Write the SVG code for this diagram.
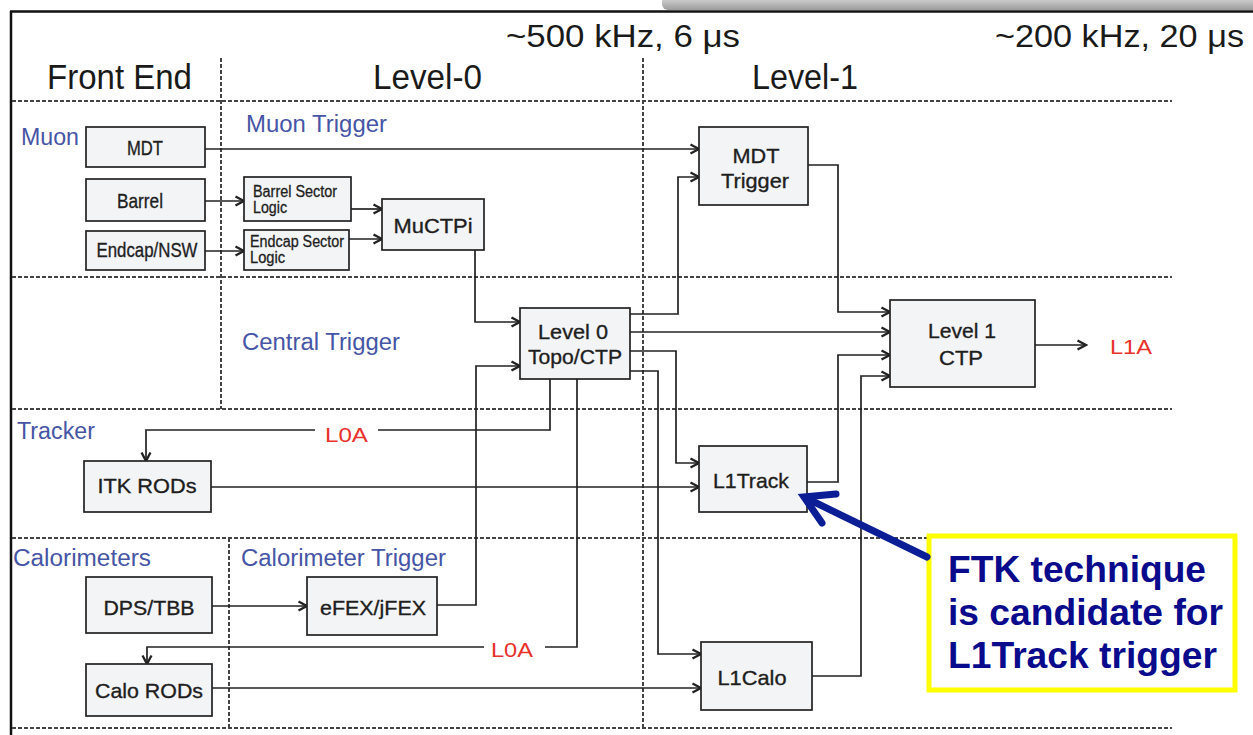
<svg xmlns="http://www.w3.org/2000/svg" width="1253" height="735" viewBox="0 0 1253 735">
<style>
text{font-family:"Liberation Sans",Arial,sans-serif;}
.hdr{font-size:35px;fill:#1a1a1a;}
.rate{font-size:32px;fill:#1a1a1a;}
.sec{font-size:23px;fill:#4655a5;}
.box{fill:#f3f4f6;stroke:#222;stroke-width:1.7;}
.bt{font-size:21px;fill:#1e1e1e;text-anchor:middle;stroke:#1e1e1e;stroke-width:0.35;}
.st{font-size:16px;fill:#1e1e1e;stroke:#1e1e1e;stroke-width:0.3;}
.dash{stroke:#444;stroke-width:2;stroke-dasharray:4 2;fill:none;}
.c{fill:none;stroke:#222;stroke-width:1.7;}
.red{font-size:21px;fill:#e8322b;}
.ftk{font-size:36.5px;font-weight:bold;fill:#0a0a8c;}
</style>
<defs>
<marker id="ah" viewBox="0 0 12 12" refX="10.5" refY="6" markerWidth="12" markerHeight="12" markerUnits="userSpaceOnUse" orient="auto">
<path d="M2,1.5 L10.5,6 L2,10.5" fill="none" stroke="#222" stroke-width="2.3"/>
</marker>
<linearGradient id="sh" x1="0" y1="0" x2="0" y2="1">
<stop offset="0" stop-color="#e6e6e6"/>
<stop offset="1" stop-color="#9c9c9c"/>
</linearGradient>
</defs>
<rect width="1253" height="735" fill="#fff"/>
<rect x="662" y="-6" width="600" height="16" rx="6" fill="url(#sh)"/>
<g id="frame">
<line x1="10" y1="11.5" x2="1253" y2="11.5" stroke="#111" stroke-width="2.5"/>
<line x1="11" y1="11" x2="11" y2="735" stroke="#111" stroke-width="2.5"/>
</g>
<g id="grid">
<line class="dash" x1="12" y1="101" x2="1172" y2="101"/>
<line class="dash" x1="12" y1="277" x2="1172" y2="277"/>
<line class="dash" x1="12" y1="409" x2="1172" y2="409"/>
<line class="dash" x1="12" y1="538" x2="1172" y2="538"/>
<line class="dash" x1="12" y1="728" x2="1172" y2="728"/>
<line class="dash" x1="221" y1="58" x2="221" y2="409"/>
<line class="dash" x1="229" y1="538" x2="229" y2="728"/>
<line class="dash" x1="643" y1="58" x2="643" y2="728"/>
</g>
<g id="headers">
<text class="hdr" x="47" y="89" textLength="145" lengthAdjust="spacingAndGlyphs">Front End</text>
<text class="hdr" x="373" y="89" textLength="109" lengthAdjust="spacingAndGlyphs">Level-0</text>
<text class="hdr" x="752" y="89" textLength="106" lengthAdjust="spacingAndGlyphs">Level-1</text>
<text class="rate" x="506" y="47" textLength="234" lengthAdjust="spacingAndGlyphs">~500 kHz, 6 μs</text>
<text class="rate" x="995" y="47" textLength="249" lengthAdjust="spacingAndGlyphs">~200 kHz, 20 μs</text>
</g>
<g id="sections">
<text class="sec" x="21" y="145" textLength="58" lengthAdjust="spacingAndGlyphs">Muon</text>
<text class="sec" x="246" y="132" textLength="141" lengthAdjust="spacingAndGlyphs">Muon Trigger</text>
<text class="sec" x="242" y="350" textLength="158" lengthAdjust="spacingAndGlyphs">Central Trigger</text>
<text class="sec" x="17" y="439" textLength="78" lengthAdjust="spacingAndGlyphs">Tracker</text>
<text class="sec" x="13" y="566" textLength="138" lengthAdjust="spacingAndGlyphs">Calorimeters</text>
<text class="sec" x="241" y="566" textLength="205" lengthAdjust="spacingAndGlyphs">Calorimeter Trigger</text>
</g>
<g id="connectors">
<polyline class="c" points="205,149 699,149" marker-end="url(#ah)"/>
<polyline class="c" points="205,201 244,201" marker-end="url(#ah)"/>
<polyline class="c" points="205,251 244,251" marker-end="url(#ah)"/>
<polyline class="c" points="351,209 382,209" marker-end="url(#ah)"/>
<polyline class="c" points="349,239 382,239" marker-end="url(#ah)"/>
<polyline class="c" points="475,250 475,322 520,322" marker-end="url(#ah)"/>
<polyline class="c" points="437,605 476,605 476,366 520,366" marker-end="url(#ah)"/>
<polyline class="c" points="630,314 678,314 678,177 699,177" marker-end="url(#ah)"/>
<polyline class="c" points="630,332 890,332" marker-end="url(#ah)"/>
<polyline class="c" points="630,351 676,351 676,463 699,463" marker-end="url(#ah)"/>
<polyline class="c" points="630,371 658,371 658,654 701,654" marker-end="url(#ah)"/>
<polyline class="c" points="550,379 550,430 378,430"/>
<polyline class="c" points="315,430 146,430 146,461" marker-end="url(#ah)"/>
<polyline class="c" points="577,379 577,647 545,647"/>
<polyline class="c" points="484,647 147,647 147,664" marker-end="url(#ah)"/>
<polyline class="c" points="211,487 699,487" marker-end="url(#ah)"/>
<polyline class="c" points="212,688 701,688" marker-end="url(#ah)"/>
<polyline class="c" points="212,606 307,606" marker-end="url(#ah)"/>
<polyline class="c" points="808,165 838,165 838,312 890,312" marker-end="url(#ah)"/>
<polyline class="c" points="807,482 838,482 838,355 890,355" marker-end="url(#ah)"/>
<polyline class="c" points="812,676 861,676 861,376 890,376" marker-end="url(#ah)"/>
<polyline class="c" points="1035,345 1086,345" marker-end="url(#ah)"/>
<text class="red" x="325" y="442" textLength="43" lengthAdjust="spacingAndGlyphs">L0A</text>
<text class="red" x="491" y="657" textLength="42" lengthAdjust="spacingAndGlyphs">L0A</text>
<text class="red" x="1110" y="354" textLength="42" lengthAdjust="spacingAndGlyphs">L1A</text>
</g>
<g id="mdt"><rect class="box" x="86" y="127" width="119" height="40"/><text class="bt" x="145" y="155" font-size="19" textLength="36" lengthAdjust="spacingAndGlyphs">MDT</text></g>
<g id="barrel"><rect class="box" x="86" y="179" width="119" height="42"/><text class="bt" x="140" y="208" font-size="19" textLength="46" lengthAdjust="spacingAndGlyphs">Barrel</text></g>
<g id="endcap"><rect class="box" x="86" y="231" width="119" height="39"/><text class="bt" x="147" y="257" font-size="19" textLength="101" lengthAdjust="spacingAndGlyphs">Endcap/NSW</text></g>
<g id="barrel-sector"><rect class="box" x="244" y="177" width="107" height="44"/><text class="st" x="253" y="197" textLength="84" lengthAdjust="spacingAndGlyphs">Barrel Sector</text><text class="st" x="253" y="213" textLength="34" lengthAdjust="spacingAndGlyphs">Logic</text></g>
<g id="endcap-sector"><rect class="box" x="244" y="230" width="105" height="40"/><text class="st" x="250" y="247" textLength="94" lengthAdjust="spacingAndGlyphs">Endcap Sector</text><text class="st" x="250" y="263" textLength="35" lengthAdjust="spacingAndGlyphs">Logic</text></g>
<g id="muctpi"><rect class="box" x="382" y="199" width="102" height="51"/><text class="bt" x="433" y="233" font-size="24" textLength="79" lengthAdjust="spacingAndGlyphs">MuCTPi</text></g>
<g id="mdt-trigger"><rect class="box" x="699" y="127" width="109" height="78"/><text class="bt" x="756" y="163" font-size="22" textLength="47" lengthAdjust="spacingAndGlyphs">MDT</text><text class="bt" x="755" y="188" font-size="22" textLength="68" lengthAdjust="spacingAndGlyphs">Trigger</text></g>
<g id="level0"><rect class="box" x="520" y="308" width="110" height="71"/><text class="bt" x="573" y="339" font-size="22" textLength="70" lengthAdjust="spacingAndGlyphs">Level 0</text><text class="bt" x="575" y="364" font-size="22" textLength="94" lengthAdjust="spacingAndGlyphs">Topo/CTP</text></g>
<g id="level1"><rect class="box" x="890" y="300" width="145" height="87"/><text class="bt" x="962" y="338" font-size="22" textLength="68" lengthAdjust="spacingAndGlyphs">Level 1</text><text class="bt" x="961" y="365" font-size="22" textLength="44" lengthAdjust="spacingAndGlyphs">CTP</text></g>
<g id="l1track"><rect class="box" x="699" y="446" width="108" height="66"/><text class="bt" x="751" y="488" font-size="22" textLength="76" lengthAdjust="spacingAndGlyphs">L1Track</text></g>
<g id="l1calo"><rect class="box" x="701" y="642" width="111" height="68"/><text class="bt" x="752" y="685" font-size="22" textLength="69" lengthAdjust="spacingAndGlyphs">L1Calo</text></g>
<g id="itk"><rect class="box" x="84" y="461" width="127" height="51"/><text class="bt" x="147" y="493" font-size="21" textLength="99" lengthAdjust="spacingAndGlyphs">ITK RODs</text></g>
<g id="dps"><rect class="box" x="86" y="577" width="126" height="56"/><text class="bt" x="149" y="615" font-size="21" textLength="91" lengthAdjust="spacingAndGlyphs">DPS/TBB</text></g>
<g id="efex"><rect class="box" x="307" y="577" width="130" height="58"/><text class="bt" x="373" y="615" font-size="21" textLength="106" lengthAdjust="spacingAndGlyphs">eFEX/jFEX</text></g>
<g id="calo-rods"><rect class="box" x="86" y="664" width="126" height="52"/><text class="bt" x="149" y="698" font-size="21" textLength="108" lengthAdjust="spacingAndGlyphs">Calo RODs</text></g>
<g id="callout">
<rect x="929" y="536" width="306" height="154" fill="#fff" stroke="#ffff00" stroke-width="5"/>
<text class="ftk" x="948" y="582" textLength="258" lengthAdjust="spacingAndGlyphs">FTK technique</text>
<text class="ftk" x="948" y="625" textLength="275" lengthAdjust="spacingAndGlyphs">is candidate for</text>
<text class="ftk" x="948" y="668" textLength="269" lengthAdjust="spacingAndGlyphs">L1Track trigger</text>
<line x1="927" y1="557" x2="808" y2="499" stroke="#0b1e96" stroke-width="7" stroke-linecap="round"/>
<polyline points="836,494 804,497 822,523" fill="none" stroke="#0b1e96" stroke-width="7" stroke-linecap="round" stroke-linejoin="miter"/>
</g>
</svg>
